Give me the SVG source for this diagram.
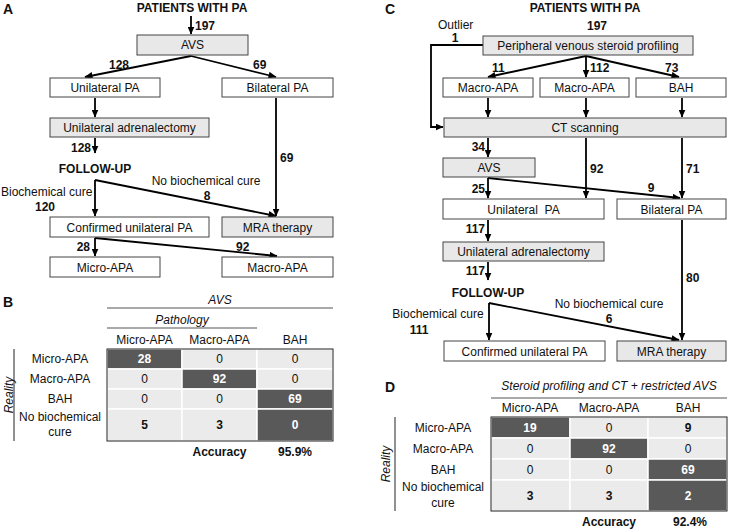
<svg xmlns="http://www.w3.org/2000/svg" width="729" height="529" viewBox="0 0 729 529">
<defs>
<marker id="ah" markerUnits="userSpaceOnUse" markerWidth="8" markerHeight="7" refX="7.5" refY="3.5" orient="auto">
<path d="M0,0 L8,3.5 L0,7 z" fill="#000"/>
</marker>
<style>
text{font-family:"Liberation Sans",Arial,sans-serif;font-size:12px;fill:#111}
.b{font-weight:bold}
.i{font-style:italic}
.m{text-anchor:middle}
.e{text-anchor:end}
.L{font-size:14px;font-weight:bold}
.w{fill:#fff;font-weight:bold}
.box{fill:#fff;stroke:#444;stroke-width:1}
.g{fill:#e8e8e8}
.c{stroke:#000;stroke-width:1.8;fill:none}
.a{marker-end:url(#ah)}
.hl{stroke:#555;stroke-width:1.2}
.lc{fill:#ebebeb;stroke:#fff;stroke-width:1.5}
.dc{fill:#595959;stroke:#fff;stroke-width:1.5}
.tb{fill:none;stroke:#222;stroke-width:1}
</style>
</defs>

<!-- Panel labels and titles -->
<g id="labels">
<text class="L" x="3" y="14">A</text>
<text class="L" x="3" y="307">B</text>
<text class="L" x="385" y="14">C</text>
<text class="L" x="385" y="392">D</text>
<text class="b m" x="192" y="12">PATIENTS WITH PA</text>
<text class="b m" x="585" y="12">PATIENTS WITH PA</text>
</g>

<!-- Connectors -->
<g id="connectors">
<!-- Panel A -->
<line class="c a" x1="191" y1="16" x2="191" y2="34"/>
<line class="c a" x1="191" y1="56" x2="85" y2="77"/>
<line class="c a" x1="191" y1="56" x2="276" y2="77"/>
<line class="c a" x1="95" y1="98" x2="95" y2="117"/>
<line class="c a" x1="95" y1="138" x2="95" y2="153"/>
<line class="c a" x1="95" y1="180" x2="95" y2="216"/>
<line class="c a" x1="95" y1="180" x2="276" y2="216"/>
<line class="c a" x1="276" y1="98" x2="276" y2="216"/>
<line class="c a" x1="95" y1="238" x2="95" y2="256"/>
<line class="c a" x1="95" y1="238" x2="277" y2="256"/>
<!-- Panel C -->
<polyline class="c a" points="483,45 431,45 431,127 443,127"/>
<line class="c a" x1="586" y1="56" x2="488" y2="77"/>
<line class="c a" x1="586" y1="56" x2="586" y2="77"/>
<line class="c a" x1="586" y1="56" x2="679" y2="77"/>
<line class="c a" x1="488" y1="98" x2="488" y2="117"/>
<line class="c a" x1="586" y1="98" x2="586" y2="117"/>
<line class="c a" x1="682" y1="98" x2="682" y2="117"/>
<line class="c a" x1="488" y1="138" x2="488" y2="157"/>
<line class="c a" x1="586" y1="138" x2="586" y2="198"/>
<line class="c a" x1="682" y1="138" x2="682" y2="198"/>
<line class="c a" x1="488" y1="178" x2="488" y2="198"/>
<line class="c a" x1="488" y1="178" x2="680" y2="198"/>
<line class="c a" x1="488" y1="220" x2="488" y2="241"/>
<line class="c a" x1="488" y1="262" x2="488" y2="280"/>
<line class="c a" x1="682" y1="220" x2="682" y2="340"/>
<line class="c a" x1="489" y1="303" x2="489" y2="340"/>
<line class="c a" x1="489" y1="303" x2="679" y2="340"/>
</g>

<!-- Connector labels -->
<g id="edge-labels">
<text class="b" x="195" y="30">197</text>
<text class="b e" x="129" y="69">128</text>
<text class="b" x="253" y="69">69</text>
<text class="b e" x="91" y="152">128</text>
<text class="b m" x="95" y="173">FOLLOW-UP</text>
<text class="m" x="206" y="185">No biochemical cure</text>
<text class="b m" x="207" y="200">8</text>
<text x="1" y="196">Biochemical cure</text>
<text class="b m" x="45" y="211">120</text>
<text class="b" x="280" y="162">69</text>
<text class="b e" x="90" y="251">28</text>
<text class="b" x="236" y="251">92</text>

<text x="438" y="29">Outlier</text>
<text class="b m" x="455" y="42">1</text>
<text class="b m" x="597" y="30">197</text>
<text class="b" x="492" y="72">11</text>
<text class="b" x="590" y="72">112</text>
<text class="b" x="665" y="72">73</text>
<text class="b e" x="485" y="151">34</text>
<text class="b" x="590" y="173">92</text>
<text class="b" x="686" y="173">71</text>
<text class="b e" x="485" y="193">25</text>
<text class="b m" x="651" y="192">9</text>
<text class="b e" x="485" y="233">117</text>
<text class="b e" x="485" y="275">117</text>
<text class="b" x="686" y="282">80</text>
<text class="b m" x="488" y="297">FOLLOW-UP</text>
<text class="m" x="609" y="308">No biochemical cure</text>
<text class="b m" x="609" y="323">6</text>
<text class="m" x="438" y="318">Biochemical cure</text>
<text class="b m" x="419" y="334">111</text>
</g>

<!-- Panel A nodes -->
<g id="a-avs"><rect class="box g" x="137" y="35" width="111" height="20"/><text class="m" x="192.5" y="49">AVS</text></g>
<g id="a-unilateral"><rect class="box" x="50" y="78" width="110" height="19"/><text class="m" x="105" y="92">Unilateral PA</text></g>
<g id="a-bilateral"><rect class="box" x="222" y="78" width="111" height="19"/><text class="m" x="277.5" y="92">Bilateral PA</text></g>
<g id="a-adrenalectomy"><rect class="box g" x="50" y="118" width="159" height="19"/><text class="m" x="129.5" y="132">Unilateral adrenalectomy</text></g>
<g id="a-confirmed"><rect class="box" x="50" y="217" width="159" height="20"/><text class="m" x="129.5" y="232">Confirmed unilateral PA</text></g>
<g id="a-mra"><rect class="box g" x="222" y="217" width="111" height="20"/><text class="m" x="277.5" y="232">MRA therapy</text></g>
<g id="a-micro"><rect class="box" x="50" y="257" width="110" height="20"/><text class="m" x="105" y="272">Micro-APA</text></g>
<g id="a-macro"><rect class="box" x="222" y="257" width="111" height="20"/><text class="m" x="277.5" y="272">Macro-APA</text></g>

<!-- Panel C nodes -->
<g id="c-profiling"><rect class="box g" x="483" y="36" width="210" height="19"/><text class="m" x="588" y="50">Peripheral venous steroid profiling</text></g>
<g id="c-macro1"><rect class="box" x="443" y="78" width="90" height="19"/><text class="m" x="488" y="92">Macro-APA</text></g>
<g id="c-macro2"><rect class="box" x="540" y="78" width="89" height="19"/><text class="m" x="584.5" y="92">Macro-APA</text></g>
<g id="c-bah"><rect class="box" x="636" y="78" width="90" height="19"/><text class="m" x="681" y="92">BAH</text></g>
<g id="c-ct"><rect class="box g" x="444" y="118" width="282" height="19"/><text class="m" x="585" y="132">CT scanning</text></g>
<g id="c-avs"><rect class="box g" x="443" y="158" width="92" height="19"/><text class="m" x="489" y="172">AVS</text></g>
<g id="c-unilateral"><rect class="box" x="443" y="199" width="161" height="20"/><text class="m" x="523.5" y="214">Unilateral&#160; PA</text></g>
<g id="c-bilateral"><rect class="box" x="617" y="199" width="109" height="20"/><text class="m" x="671.5" y="214">Bilateral PA</text></g>
<g id="c-adrenalectomy"><rect class="box g" x="443" y="242" width="161" height="19"/><text class="m" x="523.5" y="256">Unilateral adrenalectomy</text></g>
<g id="c-confirmed"><rect class="box" x="444" y="341" width="161" height="20"/><text class="m" x="524.5" y="356">Confirmed unilateral PA</text></g>
<g id="c-mra"><rect class="box g" x="617" y="341" width="109" height="20"/><text class="m" x="671.5" y="356">MRA therapy</text></g>

<!-- Panel B table -->
<g id="b-table">
<text class="i m" x="220" y="304">AVS</text>
<line class="hl" x1="107" y1="308" x2="333" y2="308"/>
<text class="i m" x="182" y="324">Pathology</text>
<line class="hl" x1="107" y1="328" x2="257" y2="328"/>
<text class="m" x="144.5" y="344">Micro-APA</text>
<text class="m" x="219.5" y="344">Macro-APA</text>
<text class="m" x="295" y="344">BAH</text>
<rect class="dc" x="107" y="349" width="75" height="20"/><rect class="lc" x="182" y="349" width="75" height="20"/><rect class="lc" x="257" y="349" width="76" height="20"/>
<rect class="lc" x="107" y="369" width="75" height="20"/><rect class="dc" x="182" y="369" width="75" height="20"/><rect class="lc" x="257" y="369" width="76" height="20"/>
<rect class="lc" x="107" y="389" width="75" height="20"/><rect class="lc" x="182" y="389" width="75" height="20"/><rect class="dc" x="257" y="389" width="76" height="20"/>
<rect class="lc" x="107" y="409" width="75" height="32"/><rect class="lc" x="182" y="409" width="75" height="32"/><rect class="dc" x="257" y="409" width="76" height="32"/>
<rect class="tb" x="107" y="349" width="226" height="92"/>
<text class="w m" x="144.5" y="363">28</text><text class="m" x="219.5" y="363">0</text><text class="m" x="295" y="363">0</text>
<text class="m" x="144.5" y="383">0</text><text class="w m" x="219.5" y="383">92</text><text class="m" x="295" y="383">0</text>
<text class="m" x="144.5" y="403">0</text><text class="m" x="219.5" y="403">0</text><text class="w m" x="295" y="403">69</text>
<text class="b m" x="144.5" y="429">5</text><text class="b m" x="219.5" y="429">3</text><text class="w m" x="295" y="429">0</text>
<text class="m" x="60" y="363">Micro-APA</text>
<text class="m" x="60" y="383">Macro-APA</text>
<text class="m" x="60" y="403">BAH</text>
<text class="m" x="60" y="421">No biochemical</text>
<text class="m" x="60" y="436">cure</text>
<line x1="14" y1="349" x2="14" y2="441" stroke="#222" stroke-width="1"/>
<text class="i m" transform="translate(9,395) rotate(-90)" x="0" y="4">Reality</text>
<text class="b m" x="219.5" y="456">Accuracy</text>
<text class="b m" x="295" y="456">95.9%</text>
</g>

<!-- Panel D table -->
<g id="d-table">
<text class="i m" x="609" y="390">Steroid profiling and CT + restricted AVS</text>
<line class="hl" x1="491" y1="398" x2="727" y2="398"/>
<text class="m" x="530" y="412">Micro-APA</text>
<text class="m" x="609" y="412">Macro-APA</text>
<text class="m" x="688" y="412">BAH</text>
<rect class="dc" x="491" y="417" width="79" height="21"/><rect class="lc" x="570" y="417" width="78" height="21"/><rect class="lc" x="648" y="417" width="79" height="21"/>
<rect class="lc" x="491" y="438" width="79" height="21"/><rect class="dc" x="570" y="438" width="78" height="21"/><rect class="lc" x="648" y="438" width="79" height="21"/>
<rect class="lc" x="491" y="459" width="79" height="21"/><rect class="lc" x="570" y="459" width="78" height="21"/><rect class="dc" x="648" y="459" width="79" height="21"/>
<rect class="lc" x="491" y="480" width="79" height="31"/><rect class="lc" x="570" y="480" width="78" height="31"/><rect class="dc" x="648" y="480" width="79" height="31"/>
<rect class="tb" x="491" y="417" width="236" height="94"/>
<text class="w m" x="530" y="432">19</text><text class="m" x="609" y="432">0</text><text class="b m" x="688" y="432">9</text>
<text class="m" x="530" y="453">0</text><text class="w m" x="609" y="453">92</text><text class="m" x="688" y="453">0</text>
<text class="m" x="530" y="474">0</text><text class="m" x="609" y="474">0</text><text class="w m" x="688" y="474">69</text>
<text class="b m" x="530" y="500">3</text><text class="b m" x="609" y="500">3</text><text class="w m" x="688" y="500">2</text>
<text class="m" x="443" y="432">Micro-APA</text>
<text class="m" x="443" y="453">Macro-APA</text>
<text class="m" x="443" y="474">BAH</text>
<text class="m" x="443" y="491">No biochemical</text>
<text class="m" x="443" y="507">cure</text>
<line x1="395" y1="417" x2="395" y2="511" stroke="#222" stroke-width="1"/>
<text class="i m" transform="translate(386,464) rotate(-90)" x="0" y="4">Reality</text>
<text class="b m" x="609" y="526">Accuracy</text>
<text class="b m" x="690" y="526">92.4%</text>
</g>
</svg>
